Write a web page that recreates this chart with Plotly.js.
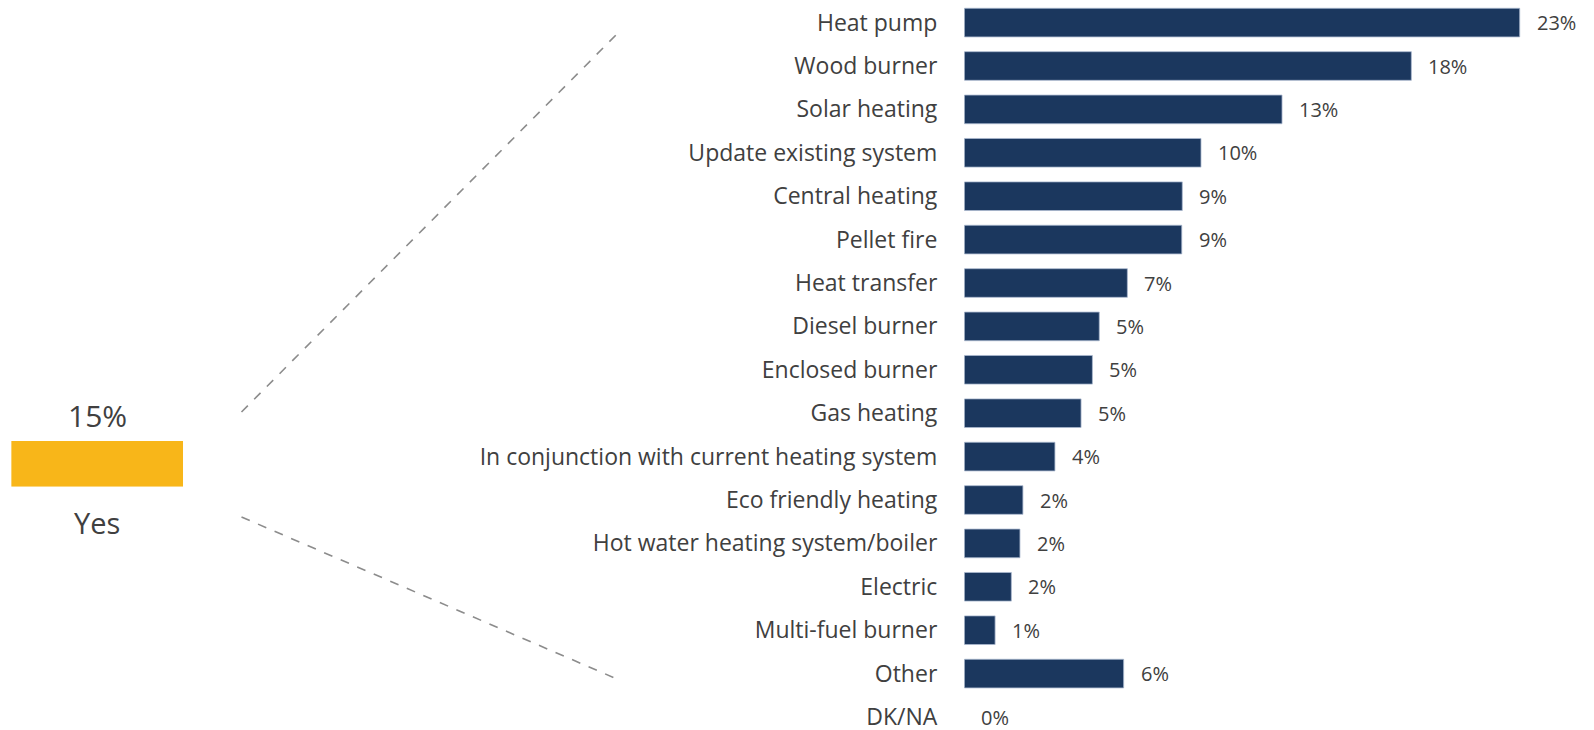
<!DOCTYPE html>
<html>
<head>
<meta charset="utf-8">
<script src="https://cdn.plot.ly/plotly-3.0.1.min.js"></script>
<style>
  html, body { margin: 0; padding: 0; background: #fff; }
  #chart { width: 1594px; height: 730px; }
</style>
</head>
<body>
<div id="chart"></div>
<script>
// Heating systems being considered (share of those answering "Yes")
const categories = [
    'Heat pump', 'Wood burner', 'Solar heating', 'Update existing system',
    'Central heating', 'Pellet fire', 'Heat transfer', 'Diesel burner',
    'Enclosed burner', 'Gas heating', 'In conjunction with current heating system',
    'Eco friendly heating', 'Hot water heating system/boiler', 'Electric',
    'Multi-fuel burner', 'Other', 'DK/NA'
];
const values = [22.55, 18.15, 12.9, 9.61, 8.85, 8.83, 6.62, 5.48, 5.2, 4.74, 3.68, 2.38, 2.26, 1.91, 1.25, 6.47, 0];

// Left summary bar
const yesCategory = ['Yes'];
const yesValue = [15];

const W = 1594, H = 730;
const navy = '#1B375E';
const orange = '#F8B619';
const textColor = '#404040';
const font = 'Open Sans, Segoe UI, sans-serif';

// pixel helpers (margins are zero, so paper == page)
const px = x => x / W;
const py = y => 1 - y / H;

const barStart = 964.3;
const pxPerPct = 24.63;
const rowTop = 22.6, rowPitch = 43.4;

const mainBars = {
    type: 'bar',
    orientation: 'h',
    x: values,
    y: categories,
    xaxis: 'x',
    yaxis: 'y',
    marker: {
        color: navy,
        // no outline on empty bars (DK/NA)
        line: {color: '#A9B8CE', width: values.map(v => v > 0 ? 0.8 : 0)}
    },
    hoverinfo: 'x+y',
    showlegend: false
};

const yesBar = {
    type: 'bar',
    x: yesCategory,
    y: yesValue,
    xaxis: 'x2',
    yaxis: 'y2',
    width: 1,
    marker: {color: orange},
    showlegend: false
};

const annotations = values.map((v, i) => ({
    x: v, y: categories[i], xref: 'x', yref: 'y',
    text: Math.round(v) + '%',
    showarrow: false, xanchor: 'left', yanchor: 'middle', xshift: 15,
    font: {family: font, size: 20, color: textColor}
}));
yesValue.forEach((v, i) => annotations.push({
    x: yesCategory[i], y: v, xref: 'x2', yref: 'y2',
    text: v + '%',
    showarrow: false, xanchor: 'center', yanchor: 'bottom', yshift: 3,
    font: {family: font, size: 30, color: textColor}
}));

// dashed connector lines from the Yes bar to the breakdown
const dashLine = {color: '#8C8C8C', width: 1.6, dash: 'dash'};
const shapes = [
    {type: 'line', xref: 'paper', yref: 'paper', x0: px(241.5), y0: py(412), x1: px(617), y1: py(34), line: dashLine},
    {type: 'line', xref: 'paper', yref: 'paper', x0: px(241.5), y0: py(517), x1: px(617), y1: py(679), line: dashLine}
];

const xMax = (W - barStart) / pxPerPct;
const yBottom = (H - rowTop) / rowPitch;
const yTop = -rowTop / rowPitch;

const layout = {
    width: W,
    height: H,
    margin: {l: 0, r: 0, t: 0, b: 0},
    paper_bgcolor: '#fff',
    plot_bgcolor: 'rgba(0,0,0,0)',
    font: {family: font, color: textColor},
    bargap: 0.34,
    showlegend: false,
    xaxis: {
        domain: [px(barStart), 1],
        range: [0, xMax],
        visible: false,
        fixedrange: true
    },
    yaxis: {
        domain: [0, 1],
        type: 'category',
        categoryorder: 'array',
        categoryarray: categories,
        range: [yBottom, yTop],
        showgrid: false,
        zeroline: false,
        showline: false,
        ticks: '',
        ticklabelstandoff: 26,
        tickfont: {family: font, size: 23, color: textColor},
        fixedrange: true
    },
    xaxis2: {
        domain: [px(11.2), px(183.1)],
        anchor: 'y2',
        type: 'category',
        range: [-0.5, 0.5],
        showgrid: false,
        zeroline: false,
        showline: false,
        ticks: '',
        ticklabelstandoff: 17,
        tickfont: {family: font, size: 29, color: textColor},
        fixedrange: true
    },
    yaxis2: {
        domain: [py(486.7), py(441)],
        anchor: 'x2',
        range: [0, 15],
        visible: false,
        fixedrange: true
    },
    annotations: annotations,
    shapes: shapes
};

Plotly.newPlot('chart', [mainBars, yesBar], layout, {displayModeBar: false, staticPlot: true});
</script>
</body>
</html>
